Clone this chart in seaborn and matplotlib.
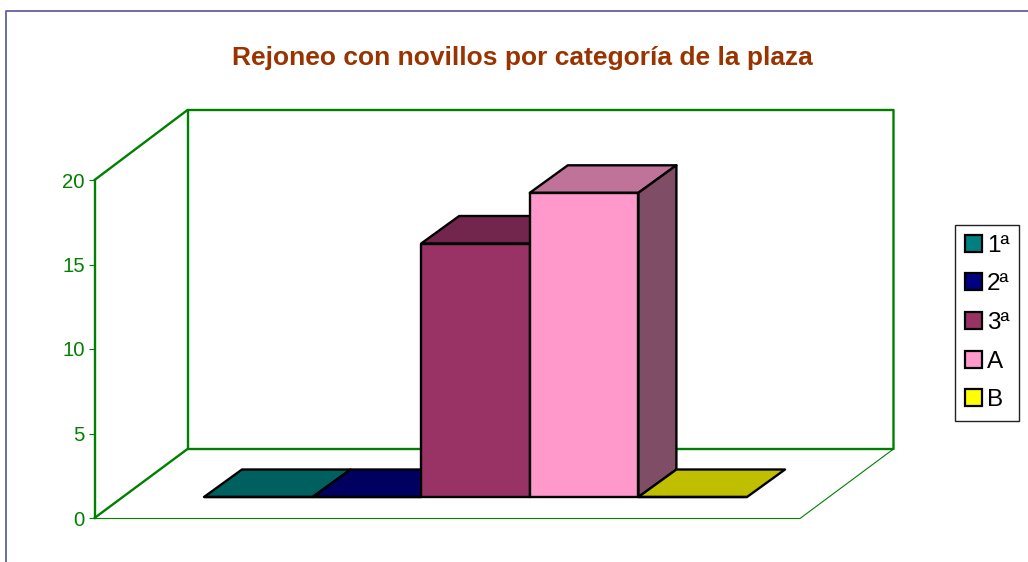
import matplotlib
matplotlib.use('Agg')
import matplotlib.pyplot as plt
import pandas as pd
import seaborn as sns
from matplotlib.lines import Line2D
from matplotlib.patches import Patch, Polygon
from matplotlib.transforms import Affine2D

categorias = ['1ª', '2ª', '3ª', 'A', 'B']
valores = [0, 0, 15, 18, 0]
colores = ['#008080', '#000080', '#993366', '#FF99CC', '#FFFF00']
ticks_y = [0, 5, 10, 15, 20]

W, H = 1028, 562
VERDE = '#008000'
LW_BARRA = 1.7

sns.set_theme(style='white')
plt.rcParams['font.family'] = ['Liberation Sans', 'DejaVu Sans']

fig = plt.figure(figsize=(W / 100, H / 100), dpi=100, facecolor='white')
# coordenadas en pixeles de la imagen para el marco y las paredes
px = Affine2D().scale(1 / W, -1 / H).translate(0, 1) + fig.transFigure


def linea(xs, ys, color=VERDE, lw=1.7):
    fig.add_artist(Line2D(xs, ys, transform=px, color=color, lw=lw, zorder=-1,
                          solid_joinstyle='round', solid_capstyle='round'))


# borde exterior
linea([6, 6, 1030], [570, 11, 11], color='#6B6BA8', lw=1.4)

# paredes y suelo
linea([94.5, 187.5, 893.5, 893.5, 187.5, 94.5], [180, 110, 110, 449, 449, 518])
linea([187.5, 187.5], [110, 449])
linea([94.5, 800, 893.5], [518.5, 518.5, 449], lw=0.8)

# barras
df = pd.DataFrame({'categoria': categorias, 'valor': valores})
unit_x = 108.6
unit_y = 16.9
ax = fig.add_axes([0, 0, 1, 1])
ax.patch.set_visible(False)
sns.barplot(data=df, x='categoria', y='valor', hue='categoria', palette=colores,
            order=categorias, hue_order=categorias, width=1, saturation=1,
            legend=False, edgecolor='black', linewidth=LW_BARRA, ax=ax, zorder=3)
ax.set_xlim(-0.5 - 204 / unit_x, -0.5 + (W - 204) / unit_x)
ax.set_ylim(-(H - 497) / unit_y, 497 / unit_y)
ax.set_axis_off()

# caras de profundidad, calculadas desde cada barra
prof_x = 38 / unit_x
prof_y = 27.5 / unit_y
for p, color in zip(ax.patches, colores):
    p.set_joinstyle('round')
    x0, x1 = p.get_x(), p.get_x() + p.get_width()
    y1 = p.get_height()
    rgb = matplotlib.colors.to_rgb(color)
    arriba = [(x0, y1), (x1, y1), (x1 + prof_x, y1 + prof_y), (x0 + prof_x, y1 + prof_y)]
    ax.add_patch(Polygon(arriba, facecolor=[c * 0.75 for c in rgb], edgecolor='black',
                         lw=LW_BARRA, zorder=2, joinstyle='round'))
    if y1 > 0:
        lado = [(x1, 0), (x1 + prof_x, prof_y), (x1 + prof_x, y1 + prof_y), (x1, y1)]
        ax.add_patch(Polygon(lado, facecolor=[c * 0.5 for c in rgb], edgecolor='black',
                             lw=LW_BARRA, zorder=2, joinstyle='round'))

# eje de valores
eje = fig.add_axes([94.5 / W, 1 - 518 / H, 1 / W, 338 / H])
eje.patch.set_visible(False)
sns.despine(ax=eje, bottom=True, right=True, top=True)
eje.spines['left'].set_color(VERDE)
eje.spines['left'].set_linewidth(1.7)
eje.set_ylim(0, 20)
eje.set_xticks([])
eje.set_yticks(ticks_y)
eje.tick_params(axis='y', left=True, length=4, width=0.8, color=VERDE, labelcolor=VERDE,
                labelsize=14.6, pad=3)

fig.text(522.5 / W, 1 - 58 / H, 'Rejoneo con novillos por categoría de la plaza',
         ha='center', va='center', color='#993300', fontsize=19, fontweight='bold')

handles = [Patch(facecolor=c, edgecolor='black', linewidth=1.6) for c in colores]
fig.legend(handles, categorias, loc='center', bbox_to_anchor=(987 / W, 1 - 323 / H),
           fontsize=17.5, fancybox=False, framealpha=1, edgecolor='#222222',
           handlelength=0.7, handleheight=0.7, handletextpad=0.2, labelspacing=0.68,
           borderpad=0.42, borderaxespad=0, labelcolor='black').get_frame().set_linewidth(1)

fig.savefig('out.png', dpi=100)
